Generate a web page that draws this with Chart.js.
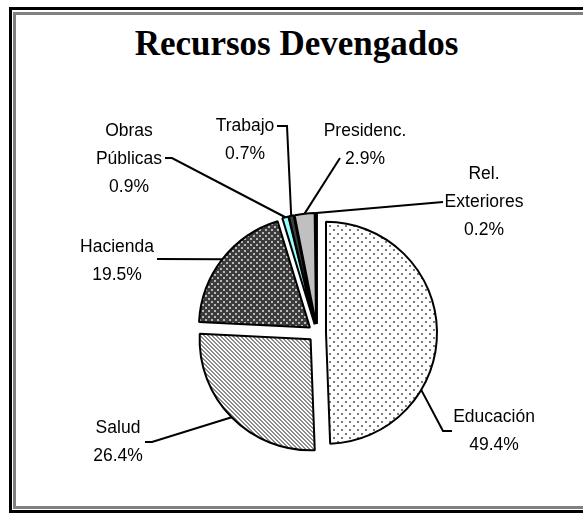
<!DOCTYPE html>
<html lang="es">
<head>
<meta charset="UTF-8">
<title>Recursos Devengados</title>
<script src="https://cdn.jsdelivr.net/npm/chart.js"></script>
<style>
  html, body { margin: 0; padding: 0; background: #fff; }
  #wrap { position: relative; width: 583px; height: 514px; overflow: hidden; }
  .box { position: absolute; box-sizing: border-box; }
  #outer { left: 9px; top: 7px; width: 620px; height: 506px; border: 3px solid #000; }
  #inner { left: 13px; top: 12px; width: 620px; height: 497px; border: 3px solid #808080; border-right: none; }
  #title { position: absolute; left: 0; top: 26px; width: 593px; text-align: center;
           font: bold 35px/35px "Liberation Serif", "Times New Roman", serif; color: #000; }
  #chart { position: absolute; left: 0; top: 0; }
</style>
</head>
<body>
<div id="wrap">
  <div class="box" id="outer"></div>
  <div class="box" id="inner"></div>
  <div id="title">Recursos Devengados</div>
  <canvas id="chart" width="583" height="514"></canvas>
</div>
<script>
// data
const categories = ['Educación', 'Salud', 'Hacienda', 'Obras Públicas', 'Trabajo', 'Presidenc.', 'Rel. Exteriores'];
const shares = [49.4, 26.4, 19.5, 0.9, 0.7, 2.9, 0.2];

// how far each slice is pulled out of the pie (px)
const explodeBy = [9, 9, 9, 9, 9, 9, 9];

// label boxes and leader lines (label side points); the arc end is computed
const labelPlace = [
  { x: 494, y: 417, path: [[452, 431], [443, 431]], at: 0.68 },
  { x: 118, y: 428, path: [[145, 442], [152, 442]], at: 0.5 },
  { x: 117, y: 247, path: [[157, 259]], at: 0.5 },
  { x: 129, y: 131, path: [[165, 158], [172, 158]], at: 0.5 },
  { x: 245, y: 126, path: [[277, 126], [287, 126]], at: 0.5 },
  { x: 365, y: 131, path: [[340, 158]], at: 0.5 },
  { x: 484, y: 174, path: [[443, 202]], at: 0.5 }
];

function makePattern(size, bg, draw) {
  const c = document.createElement('canvas');
  c.width = size; c.height = size;
  const g = c.getContext('2d');
  g.fillStyle = bg;
  g.fillRect(0, 0, size, size);
  draw(g);
  return g.createPattern(c, 'repeat');
}

// sparse gray dots on white
const dotsLight = makePattern(8, '#ffffff', g => {
  g.fillStyle = '#7a7a7a';
  g.fillRect(1, 1, 2, 2);
  g.fillRect(5, 5, 2, 2);
});
// light dots on dark gray
const dotsDark = makePattern(6, '#3c3c3c', g => {
  g.fillStyle = '#b8b8b8';
  g.fillRect(1, 1, 2, 2);
  g.fillRect(4, 4, 2, 2);
});
// wide downward diagonal stripes
const stripes = makePattern(4, '#ffffff', g => {
  g.fillStyle = '#8c8c8c';
  for (let y = 0; y < 4; y++) {
    for (let x = 0; x < 4; x++) {
      const k = ((x - y) % 4 + 4) % 4;
      if (k < 2) g.fillRect(x, y, 1, 1);
    }
  }
});

const fills = [dotsLight, stripes, dotsDark, '#99ffff', '#404040', '#c0c0c0', '#000000'];

const explode = {
  id: 'explode',
  afterDatasetUpdate(chart, args) {
    args.meta.data.forEach((arc, i) => {
      const mid = (arc.startAngle + arc.endAngle) / 2;
      arc.x += Math.cos(mid) * explodeBy[i];
      arc.y += Math.sin(mid) * explodeBy[i];
    });
  }
};

const sliceLabels = {
  id: 'sliceLabels',
  afterDatasetsDraw(chart) {
    const ctx = chart.ctx;
    const meta = chart.getDatasetMeta(0);
    ctx.save();
    ctx.strokeStyle = '#000';
    ctx.lineWidth = 2;
    ctx.fillStyle = '#000';
    ctx.font = '17.5px "Liberation Sans", Arial, sans-serif';
    ctx.textAlign = 'center';
    ctx.textBaseline = 'middle';
    meta.data.forEach((arc, i) => {
      const p = labelPlace[i];
      const a = arc.startAngle + (arc.endAngle - arc.startAngle) * p.at;
      const ex = arc.x + Math.cos(a) * arc.outerRadius;
      const ey = arc.y + Math.sin(a) * arc.outerRadius;
      ctx.beginPath();
      ctx.moveTo(p.path[0][0], p.path[0][1]);
      for (let k = 1; k < p.path.length; k++) ctx.lineTo(p.path[k][0], p.path[k][1]);
      ctx.lineTo(ex, ey);
      ctx.stroke();
      const lines = categories[i].split(' ').concat([shares[i].toFixed(1) + '%']);
      lines.forEach((t, k) => ctx.fillText(t, p.x, p.y + k * 28));
    });
    ctx.restore();
  }
};

new Chart(document.getElementById('chart'), {
  type: 'pie',
  data: {
    labels: categories,
    datasets: [{
      data: shares,
      backgroundColor: fills,
      borderColor: '#000',
      borderWidth: 2,
      radius: 111
    }]
  },
  options: {
    responsive: false,
    animation: false,
    events: [],
    layout: { padding: { left: 51, right: 0, top: 152, bottom: 0 } },
    plugins: {
      legend: { display: false },
      tooltip: { enabled: false },
      title: { display: false }
    }
  },
  plugins: [explode, sliceLabels]
});
</script>
</body>
</html>
